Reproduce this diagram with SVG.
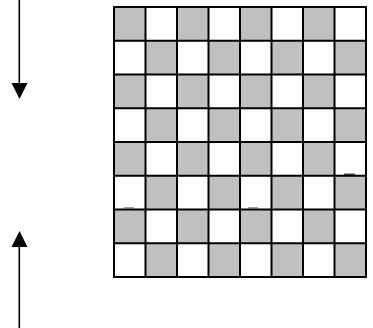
<svg xmlns="http://www.w3.org/2000/svg" width="373" height="328" viewBox="0 0 373 328">
<style>
.g{fill:#c0c0c0}
.w{fill:#fff}
.ln{stroke:#000;stroke-width:2;fill:none}
.ar{stroke:#000;stroke-width:1.6;fill:none}
.mk{stroke:#888;stroke-width:1.2}
</style>
<rect width="373" height="328" fill="#fff"/>
<g id="board">
<g id="cells">
<rect class="g" x="114" y="7" width="252" height="270"/>
</g>
<g id="white-cells" class="w">
<rect x="145.5" y="7" width="31.5" height="33.75"/><rect x="208.5" y="7" width="31.5" height="33.75"/><rect x="271.5" y="7" width="31.5" height="33.75"/><rect x="334.5" y="7" width="31.5" height="33.75"/>
<rect x="114" y="40.75" width="31.5" height="33.75"/><rect x="177" y="40.75" width="31.5" height="33.75"/><rect x="240" y="40.75" width="31.5" height="33.75"/><rect x="303" y="40.75" width="31.5" height="33.75"/>
<rect x="145.5" y="74.5" width="31.5" height="33.75"/><rect x="208.5" y="74.5" width="31.5" height="33.75"/><rect x="271.5" y="74.5" width="31.5" height="33.75"/><rect x="334.5" y="74.5" width="31.5" height="33.75"/>
<rect x="114" y="108.25" width="31.5" height="33.75"/><rect x="177" y="108.25" width="31.5" height="33.75"/><rect x="240" y="108.25" width="31.5" height="33.75"/><rect x="303" y="108.25" width="31.5" height="33.75"/>
<rect x="145.5" y="142" width="31.5" height="33.75"/><rect x="208.5" y="142" width="31.5" height="33.75"/><rect x="271.5" y="142" width="31.5" height="33.75"/><rect x="334.5" y="142" width="31.5" height="33.75"/>
<rect x="114" y="175.75" width="31.5" height="33.75"/><rect x="177" y="175.75" width="31.5" height="33.75"/><rect x="240" y="175.75" width="31.5" height="33.75"/><rect x="303" y="175.75" width="31.5" height="33.75"/>
<rect x="145.5" y="209.5" width="31.5" height="33.75"/><rect x="208.5" y="209.5" width="31.5" height="33.75"/><rect x="271.5" y="209.5" width="31.5" height="33.75"/><rect x="334.5" y="209.5" width="31.5" height="33.75"/>
<rect x="114" y="243.25" width="31.5" height="33.75"/><rect x="177" y="243.25" width="31.5" height="33.75"/><rect x="240" y="243.25" width="31.5" height="33.75"/><rect x="303" y="243.25" width="31.5" height="33.75"/>
</g>
<g id="marks">
<line class="mk" x1="124" y1="207.8" x2="134" y2="207.8"/>
<line class="mk" x1="248" y1="207.8" x2="258" y2="207.8"/>
<line x1="344" y1="174.2" x2="355" y2="174.2" stroke="#222" stroke-width="1.2"/>
</g>
<g id="grid" class="ln">
<rect x="114" y="7" width="252" height="270"/>
<path d="M145.5 7V277M177 7V277M208.5 7V277M240 7V277M271.5 7V277M303 7V277M334.5 7V277"/>
<path d="M114 40.75H366M114 74.5H366M114 108.25H366M114 142H366M114 175.75H366M114 209.5H366M114 243.25H366"/>
</g>
</g>
<g id="connectors">
<line class="ar" x1="19.3" y1="0" x2="19.3" y2="86"/>
<polygon points="11.5,83 27.5,83 19.5,99"/>
<line class="ar" x1="19.3" y1="242" x2="19.3" y2="328"/>
<polygon points="11.5,247 27.5,247 19.5,231"/>
</g>
</svg>
